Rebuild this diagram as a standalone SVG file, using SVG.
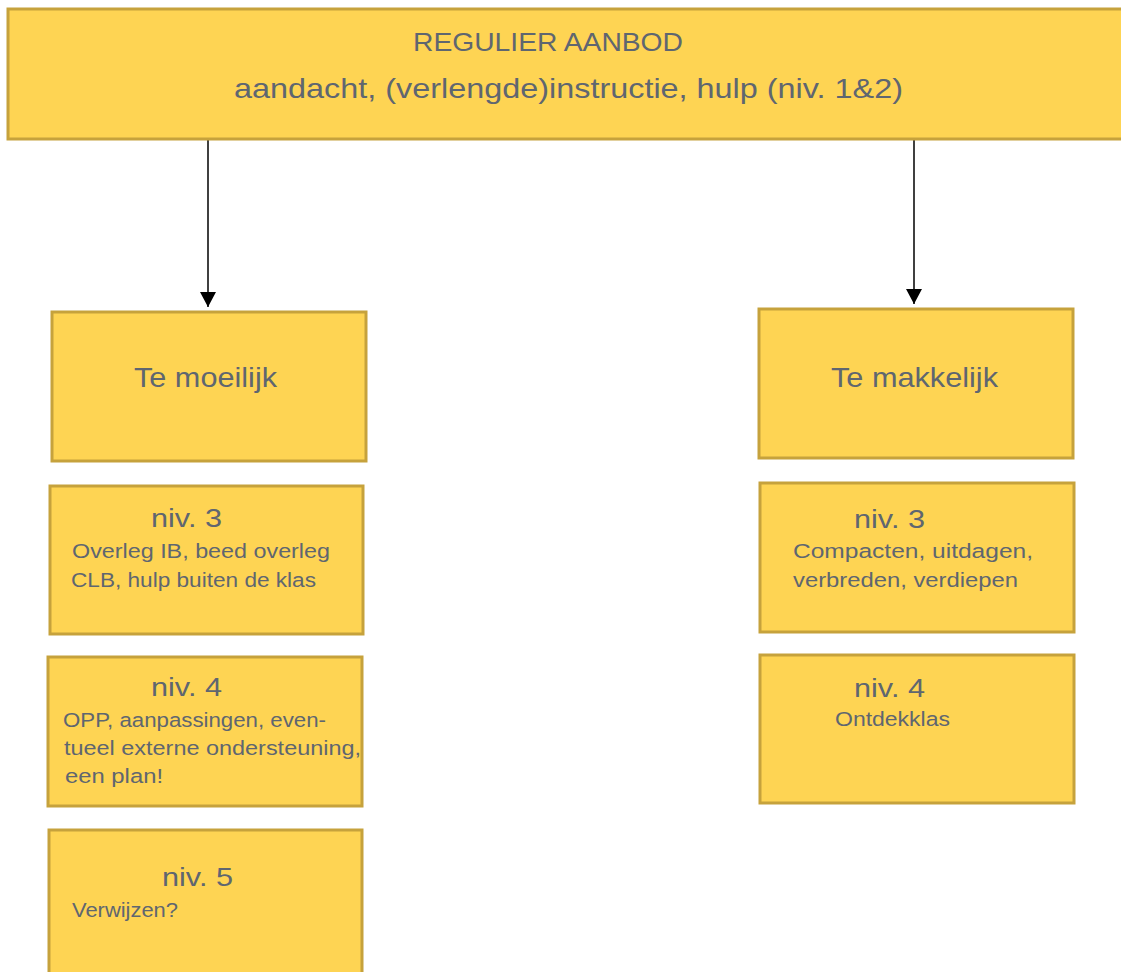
<svg xmlns="http://www.w3.org/2000/svg" width="1121" height="972" viewBox="0 0 1121 972">
<style>
.box{fill:#FED453;stroke:#C6A23C;stroke-width:3}
.t{font-family:"Liberation Sans",Arial,sans-serif;fill:#5F6670}
.h{font-size:28px}
.n{font-size:26px}
.s{font-size:20.5px}
.c{stroke:#000;stroke-width:1.5;fill:none}
</style>
<defs>
<marker id="ah" markerWidth="15" markerHeight="16" refX="15" refY="8" orient="auto" markerUnits="userSpaceOnUse" viewBox="0 0 15 16">
<path d="M0,0 L15,8 L0,16 Z" fill="#000"/>
</marker>
</defs>
<g id="connectors">
<line class="c" x1="208" y1="140" x2="208" y2="307" marker-end="url(#ah)"/>
<line class="c" x1="914" y1="138" x2="914" y2="304" marker-end="url(#ah)"/>
</g>
<g id="regulier">
<rect class="box" x="8" y="9" width="1125" height="130"/>
<text class="t" x="413" y="51" font-size="26" textLength="270" lengthAdjust="spacingAndGlyphs">REGULIER AANBOD</text>
<text class="t" x="234" y="98" font-size="28" textLength="669" lengthAdjust="spacingAndGlyphs">aandacht, (verlengde)instructie, hulp (niv. 1&amp;2)</text>
</g>
<g id="te-moeilijk">
<rect class="box" x="52" y="312" width="314" height="149"/>
<text class="t h" x="134" y="387" textLength="143" lengthAdjust="spacingAndGlyphs">Te moeilijk</text>
</g>
<g id="te-makkelijk">
<rect class="box" x="759" y="309" width="314" height="149"/>
<text class="t h" x="831" y="387" textLength="167" lengthAdjust="spacingAndGlyphs">Te makkelijk</text>
</g>
<g id="l-niv3">
<rect class="box" x="50" y="486" width="313" height="148"/>
<text class="t n" x="151" y="527" textLength="71" lengthAdjust="spacingAndGlyphs">niv. 3</text>
<text class="t s" x="72" y="558" textLength="258" lengthAdjust="spacingAndGlyphs">Overleg IB, beed overleg</text>
<text class="t s" x="71" y="587" textLength="245" lengthAdjust="spacingAndGlyphs">CLB, hulp buiten de klas</text>
</g>
<g id="l-niv4">
<rect class="box" x="48" y="657" width="314" height="149"/>
<text class="t n" x="151" y="696" textLength="71" lengthAdjust="spacingAndGlyphs">niv. 4</text>
<text class="t s" x="63" y="727" textLength="263" lengthAdjust="spacingAndGlyphs">OPP, aanpassingen, even-</text>
<text class="t s" x="64" y="755" textLength="297" lengthAdjust="spacingAndGlyphs">tueel externe ondersteuning,</text>
<text class="t s" x="65" y="783" textLength="98" lengthAdjust="spacingAndGlyphs">een plan!</text>
</g>
<g id="l-niv5">
<rect class="box" x="49" y="830" width="313" height="150"/>
<text class="t n" x="162" y="886" textLength="71" lengthAdjust="spacingAndGlyphs">niv. 5</text>
<text class="t s" x="72" y="917" textLength="106" lengthAdjust="spacingAndGlyphs">Verwijzen?</text>
</g>
<g id="r-niv3">
<rect class="box" x="760" y="483" width="314" height="149"/>
<text class="t n" x="854" y="528" textLength="71" lengthAdjust="spacingAndGlyphs">niv. 3</text>
<text class="t s" x="793" y="558" textLength="240" lengthAdjust="spacingAndGlyphs">Compacten, uitdagen,</text>
<text class="t s" x="793" y="587" textLength="225" lengthAdjust="spacingAndGlyphs">verbreden, verdiepen</text>
</g>
<g id="r-niv4">
<rect class="box" x="760" y="655" width="314" height="148"/>
<text class="t n" x="854" y="697" textLength="71" lengthAdjust="spacingAndGlyphs">niv. 4</text>
<text class="t s" x="835" y="726" textLength="115" lengthAdjust="spacingAndGlyphs">Ontdekklas</text>
</g>
</svg>
